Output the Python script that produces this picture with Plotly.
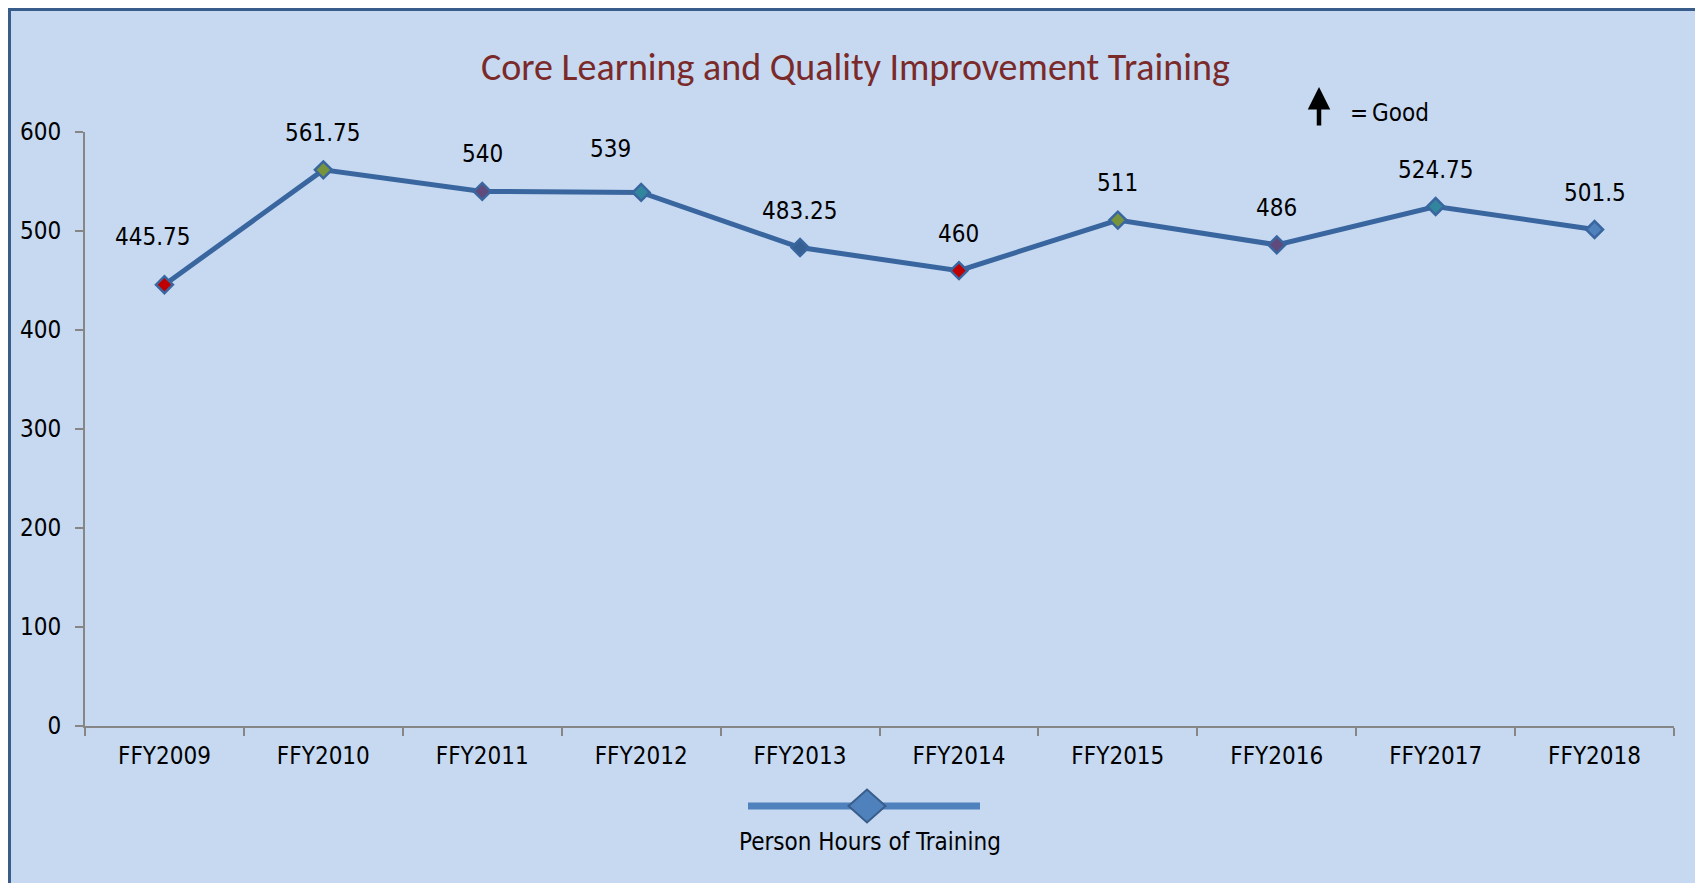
import plotly.graph_objects as go

# ---- data ----
categories = ["FFY2009", "FFY2010", "FFY2011", "FFY2012", "FFY2013",
              "FFY2014", "FFY2015", "FFY2016", "FFY2017", "FFY2018"]
hours = [445.75, 561.75, 540, 539, 483.25, 460, 511, 486, 524.75, 501.5]
value_labels = ["445.75", "561.75", "540", "539", "483.25", "460", "511", "486", "524.75", "501.5"]
series_name = "Person Hours of Training"
title_text = "Core Learning and Quality Improvement Training"
y_ticks = [0, 100, 200, 300, 400, 500, 600]

# ---- style ----
OFF = 8                      # page body margin
W, H = 1703 - OFF, 883 - OFF
L, R, T, B = 85 - OFF, 29, 132 - OFF, 157
PW, PH = W - L - R, H - T - B
BG = "#C6D9F1"
LINE = "#3A66A0"
marker_fills = ["#C00000", "#77933C", "#604A7B", "#31859C", "#376092",
                "#C00000", "#77933C", "#604A7B", "#31859C", "#4F81BD"]
label_nudges = {"FFY2009": (-11, 48), "FFY2012": (-31, 43)}
NARROW = "Liberation Sans Narrow, Arial Narrow, DejaVu Sans Condensed, sans-serif"
FS = 24


def px(x):
    """page x pixel -> paper coordinate"""
    return (x - OFF - L) / PW


def py(y):
    """page y pixel -> paper coordinate"""
    return (H - B - (y - OFF)) / PH


fig = go.Figure()
fig.add_trace(go.Scatter(
    x=categories, y=hours, mode="lines+markers", name=series_name,
    line=dict(color=LINE, width=5),
    marker=dict(symbol="diamond", size=13, color=marker_fills,
                line=dict(color=LINE, width=2.5)),
    cliponaxis=False, showlegend=False,
))

annotations = []
for c, v, t in zip(categories, hours, value_labels):
    dx, dy = label_nudges.get(c, (0, 37))
    annotations.append(dict(x=c, y=v, xref="x", yref="y", text=t, showarrow=False,
                            xshift=dx, yshift=dy, xanchor="center", yanchor="middle",
                            font=dict(family=NARROW, size=FS, color="#000000")))

# title
annotations.append(dict(x=px(855), y=py(67), xref="paper", yref="paper", text=title_text,
                        showarrow=False, xanchor="center", yanchor="middle",
                        font=dict(family="Carlito, Lato, sans-serif", size=38, color="#7B2A2A")))
# arrow = Good
annotations.append(dict(x=px(1319), y=py(87), ax=0, ay=40, xref="paper", yref="paper",
                        axref="pixel", ayref="pixel", text="", showarrow=True,
                        arrowhead=2, arrowsize=1.0, arrowwidth=4.5, arrowcolor="#000000"))
annotations.append(dict(x=px(1348), y=py(113), xref="paper", yref="paper", text="=",
                        showarrow=False, xanchor="left", yanchor="middle",
                        font=dict(family=NARROW, size=FS, color="#000000")))
annotations.append(dict(x=px(1370), y=py(113), xref="paper", yref="paper", text="Good",
                        showarrow=False, xanchor="left", yanchor="middle",
                        font=dict(family=NARROW, size=FS, color="#000000")))
# custom legend text
annotations.append(dict(x=px(870), y=py(842), xref="paper", yref="paper", text=series_name,
                        showarrow=False, xanchor="center", yanchor="middle",
                        font=dict(family=NARROW, size=FS, color="#000000")))

shapes = [
    dict(type="rect", xref="paper", yref="paper", x0=px(9.5), x1=px(1701.5), y0=py(9.5), y1=py(900),
         line=dict(color="#385D8A", width=3), fillcolor=BG, layer="below"),
    dict(type="line", xref="paper", yref="paper", x0=px(748), x1=px(980), y0=py(806), y1=py(806),
         line=dict(color="#4F81BD", width=7)),
]
cx, cy, hw, hh = 867, 806, 18.5, 16.5
shapes.append(dict(type="path", xref="paper", yref="paper",
                   path=(f"M {px(cx - hw)},{py(cy)} L {px(cx)},{py(cy - hh)} "
                         f"L {px(cx + hw)},{py(cy)} L {px(cx)},{py(cy + hh)} Z"),
                   fillcolor="#4F81BD", line=dict(color="#385D8A", width=2)))

fig.update_layout(
    width=W, height=H, margin=dict(l=L, r=R, t=T, b=B, pad=0),
    paper_bgcolor=BG, plot_bgcolor="rgba(0,0,0,0)",
    annotations=annotations, shapes=shapes, showlegend=False,
    font=dict(family=NARROW, size=FS, color="#000000"),
)
fig.update_xaxes(
    type="category", range=[-0.5, 9.5], showline=True, linecolor="#868686", linewidth=2,
    ticks="outside", tickson="boundaries", ticklen=8, tickwidth=2, tickcolor="#868686",
    showgrid=False, zeroline=False, ticklabelstandoff=7,
    tickfont=dict(family=NARROW, size=FS, color="#000000"),
)
fig.update_yaxes(
    range=[0, 600], tickvals=y_ticks, showline=True, linecolor="#868686", linewidth=2,
    ticks="outside", ticklen=8, tickwidth=2, tickcolor="#868686",
    showgrid=False, zeroline=False, ticklabelstandoff=9,
    tickfont=dict(family=NARROW, size=FS, color="#000000"),
)

fig.write_html("out.html")
